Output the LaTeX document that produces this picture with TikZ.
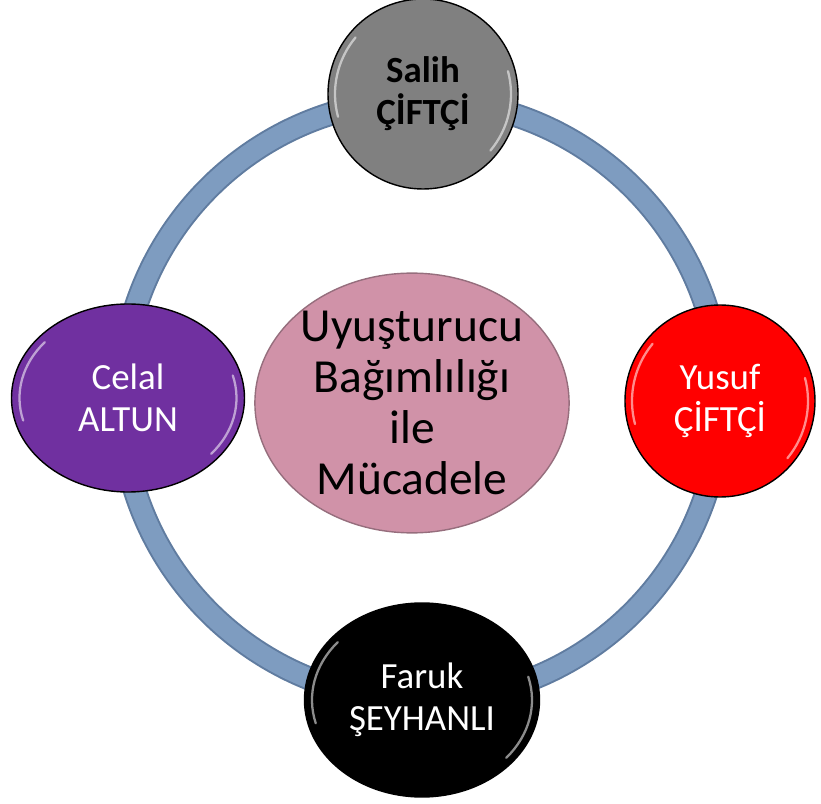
\documentclass[tikz,border=0pt]{standalone}
\usepackage{fontspec}
\setmainfont{Carlito}
\usetikzlibrary{shapes.geometric, calc}

\definecolor{ringblue}{RGB}{126,156,192}
\definecolor{ringedge}{RGB}{96,124,160}
\definecolor{hubpink}{RGB}{208,146,168}
\definecolor{hubedge}{RGB}{150,110,125}
\definecolor{nodegray}{RGB}{128,128,128}
\definecolor{nodered}{RGB}{255,0,0}
\definecolor{nodepurple}{RGB}{112,48,160}

\tikzset{
  member/.style={ellipse, draw=black, line width=0.8pt, align=center, inner sep=0pt,
    font=\fontsize{21}{24}\selectfont},
  hub/.style={ellipse, draw=hubedge, line width=0.8pt, fill=hubpink, align=center,
    inner sep=0pt, minimum width=6.2cm, minimum height=5.1cm,
    font=\fontsize{27}{29}\selectfont},
  gloss/.style={white, line width=1.3pt, opacity=0.55, line cap=round}
}

\begin{document}
\begin{tikzpicture}

% Fix the page to the reference size
\useasboundingbox (-8.42,-8.08) rectangle (8.0,8.0);

% Radius of the ring
\def\R{6.0}

% Define center of the ring
\coordinate (O) at (0,0);

% Draw the ring
\draw[line width=0.48cm, ringedge] (O) circle (\R);
\draw[line width=0.40cm, ringblue] (O) circle (\R);

% Central topic
\node[hub] (topic) at (-0.18,-0.06) {Uyuşturucu\\Bağımlılığı\\ile\\Mücadele};

% Members on the ring
\node[member, fill=nodegray, minimum width=3.8cm, minimum height=3.8cm,
  font=\fontsize{21}{24}\selectfont\bfseries] (salih) at (0.04,6.12) {Salih\\ÇİFTÇİ};
\node[member, fill=nodered, text=white, minimum width=3.8cm, minimum height=3.84cm]
  (yusuf) at (5.98,-0.02) {Yusuf\\ÇİFTÇİ};
\node[member, fill=black, text=white, minimum width=4.7cm, minimum height=3.88cm]
  (faruk) at (0.02,-6.0) {Faruk\\ŞEYHANLI};
\node[member, fill=nodepurple, text=white, minimum width=4.66cm, minimum height=3.76cm]
  (celal) at (-5.86,0.04) {Celal\\ALTUN};

% Glossy highlights on the members
\foreach \n/\rx/\ry in {salih/1.76/1.76, yusuf/1.76/1.78, faruk/2.2/1.8, celal/2.17/1.74}{
  \draw[gloss] ($(\n.center)+(140:\rx cm and \ry cm)$) arc[start angle=140, end angle=195, x radius=\rx cm, y radius=\ry cm];
  \draw[gloss] ($(\n.center)+(-40:\rx cm and \ry cm)$) arc[start angle=-40, end angle=15, x radius=\rx cm, y radius=\ry cm];
}

\end{tikzpicture}
\end{document}
